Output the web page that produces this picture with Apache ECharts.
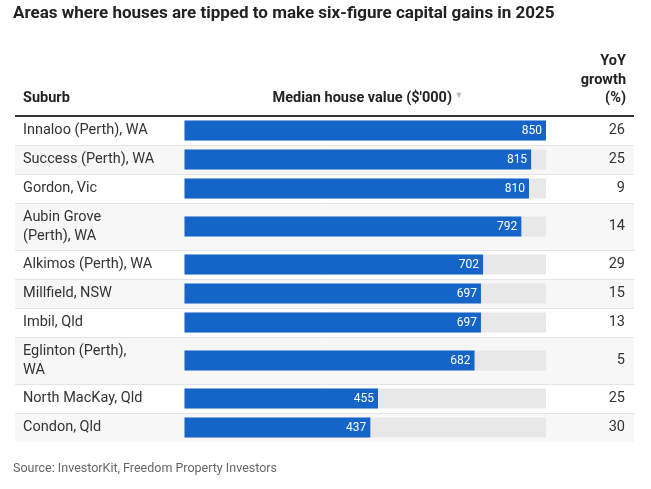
<!DOCTYPE html>
<html><head><meta charset="utf-8">
<script src="https://cdn.jsdelivr.net/npm/echarts@6/dist/echarts.min.js"></script>
<style>html,body{margin:0;padding:0;background:#fff}#c{width:651px;height:489px}</style>
</head><body><div id="c"></div>
<script>
const suburbs = ["Innaloo (Perth), WA","Success (Perth), WA","Gordon, Vic","Aubin Grove\n(Perth), WA","Alkimos (Perth), WA","Millfield, NSW","Imbil, Qld","Eglinton (Perth),\nWA","North MacKay, Qld","Condon, Qld"];
const values = [850,815,810,792,702,697,697,682,455,437];
const growth = [26,25,9,14,29,15,13,5,25,30];

const FONT = 'Roboto, "Noto Sans", sans-serif';
const tableLeft = 15, tableRight = 634, barLeft = 184.5, barRight = 546;
const headerY = 116, rowH1 = 29, rowH2 = 47, barH = 20;

const grids = [], xAxes = [], yAxes = [], series = [], graphics = [];
let y = headerY;
suburbs.forEach((s, i) => {
  const h = s.indexOf('\n') >= 0 ? rowH2 : rowH1;
  graphics.push({type:'rect', silent:true, z:0, shape:{x:tableLeft, y:y, width:tableRight-tableLeft, height:h}, style:{fill: i%2 ? '#f7f7f7' : '#ffffff'}});
  if (i > 0) graphics.push({type:'line', silent:true, z:1, shape:{x1:tableLeft, y1:y+0.5, x2:tableRight, y2:y+0.5}, style:{stroke:'#e4e4e4', lineWidth:1}});
  grids.push({left: barLeft, width: barRight-barLeft, top: y + (h-barH)/2, height: barH});
  xAxes.push({type:'value', gridIndex:i, min:0, max:850, show:false});
  yAxes.push({type:'category', gridIndex:i, data:[s], position:'left',
    axisLine:{show:false}, axisTick:{show:false}, splitLine:{show:false},
    axisLabel:{margin: barLeft-23, align:'left', color:'#333', fontSize:14.5, fontFamily:FONT, lineHeight:19}});
  yAxes.push({type:'category', gridIndex:i, data:[String(growth[i])], position:'right',
    axisLine:{show:false}, axisTick:{show:false}, splitLine:{show:false},
    axisLabel:{margin: 625-barRight, align:'right', color:'#333', fontSize:14.5, fontFamily:FONT}});
  series.push({type:'bar', xAxisIndex:i, yAxisIndex:2*i, data:[values[i]], barWidth:barH,
    itemStyle:{color:'#1565c8'}, showBackground:true, backgroundStyle:{color:'#e8e8e8'},
    label:{show:true, position:'insideRight', distance:4, color:'#fff', fontSize:12, fontFamily:FONT},
    animation:false, silent:true});
  y += h;
});

graphics.push({type:'line', silent:true, z:2, shape:{x1:tableLeft, y1:headerY, x2:tableRight, y2:headerY}, style:{stroke:'#333', lineWidth:2}});
graphics.push({type:'text', x:13, y:14, style:{text:'Areas where houses are tipped to make six-figure capital gains in 2025', font:'bold 17px '+FONT, fill:'#222', verticalAlign:'middle'}});
graphics.push({type:'text', x:23, y:98, style:{text:'Suburb', font:'bold 14.5px '+FONT, fill:'#222', verticalAlign:'middle'}});
graphics.push({type:'text', x:452, y:98, style:{text:"Median house value ($'000)", font:'bold 14.5px '+FONT, fill:'#222', align:'right', verticalAlign:'middle'}});
graphics.push({type:'text', x:459, y:96, style:{text:'▼', font:'9px '+FONT, fill:'#bbb', align:'center', verticalAlign:'middle'}});
graphics.push({type:'text', x:626, y:80, style:{text:'YoY\ngrowth\n(%)', font:'bold 14.5px '+FONT, fill:'#222', align:'right', verticalAlign:'middle', lineHeight:18.5}});
graphics.push({type:'text', x:13, y:469, style:{text:'Source: InvestorKit, Freedom Property Investors', font:'12.5px '+FONT, fill:'#666', verticalAlign:'middle'}});

const chart = echarts.init(document.getElementById('c'));
chart.setOption({animation:false, grid:grids, xAxis:xAxes, yAxis:yAxes, series:series, graphic:graphics});
</script></body></html>
